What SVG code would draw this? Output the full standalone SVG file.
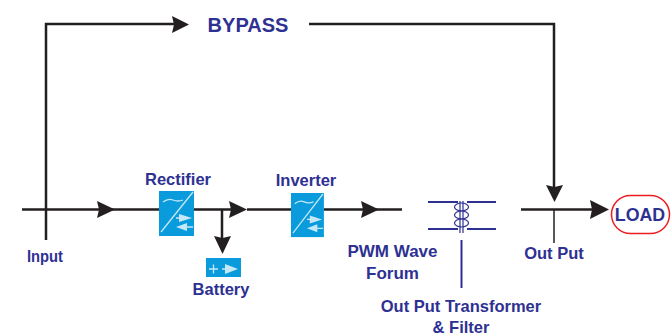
<svg xmlns="http://www.w3.org/2000/svg" width="671" height="335" viewBox="0 0 671 335">
<style>
text{font-family:"Liberation Sans",Arial,sans-serif;font-weight:bold;fill:#2e3192;font-size:16.500px;text-anchor:middle}
.w{fill:none;stroke:#231f20;stroke-width:2.500}
.t{fill:none;stroke:#2e3192;stroke-width:2}
.c{fill:none;stroke:#2e3192;stroke-width:1.200}
.a{fill:#231f20}
.b{fill:#0a9bdc}
.l{stroke:#c5e8f7;stroke-width:1.300;fill:none}
.f{fill:#c5e8f7}
</style>
<defs>
<g id="conv">
<rect class="b" width="35" height="45"/>
<path class="l" d="M2 41L34 1"/>
<path class="l" d="M4 11q5-4 10-2t10 0"/>
<path class="l" d="M17 27H22M26 36H34"/>
<path class="f" d="M20 23L33 27L20 31ZM17 36L28 32V40Z"/>
</g>
</defs>
<g id="connectors">
<path class="w" d="M46 240V24H175"/>
<path class="a" d="M172 16L189 24.500L172 33L174 24.500Z"/>
<path class="w" d="M309 24H554V188"/>
<path class="a" d="M546 185L554.500 187L563 185L554.500 202Z"/>
<path class="w" d="M22 209.500H159M194 209.500H232"/>
<path class="a" d="M97 201L115 209.500L97 218L99 209.500Z"/>
<path class="a" d="M229 201L247 209.500L229 218L231 209.500Z"/>
<path class="w" d="M222 210V240"/>
<path class="a" d="M214 236L222.500 238L231 236L222.500 254Z"/>
<path class="w" d="M247 209.500H291M324 209.500H402"/>
<path class="a" d="M361 201L379 209.500L361 218L363 209.500Z"/>
<path class="w" d="M521 209.500H595"/>
<path class="a" d="M590 200L609 209.500L590 219L592 209.500Z"/>
<path d="M554 209V243" fill="none" stroke="#231f20" stroke-width="1.500"/>
<path class="t" d="M461.500 240V288"/>
</g>
<g id="bypass"><text x="248" y="32" style="font-size:20px">BYPASS</text></g>
<g id="input"><text x="45" y="262" style="font-size:16px" textLength="36" lengthAdjust="spacingAndGlyphs">Input</text></g>
<g id="rectifier"><use href="#conv" x="159" y="191"/><text x="178" y="185">Rectifier</text></g>
<g id="battery">
<rect class="b" x="206" y="258" width="35" height="19"/>
<path class="l" d="M209 269H218M213.500 264.500V273.500M222 269H226"/>
<path class="f" d="M225 264L238 269L225 274Z"/>
<text x="221" y="295">Battery</text>
</g>
<g id="inverter"><use href="#conv" transform="translate(291 193) scale(.94 .98)"/><text x="306" y="186">Inverter</text></g>
<g id="pwm"><text x="392.500" y="257" style="font-size:17px">PWM Wave</text><text x="392.500" y="279" style="font-size:17px">Forum</text></g>
<g id="transformer">
<path class="t" d="M428 202H458M467 202H496M428 229H458M467 229H496"/>
<path class="c" d="M460 201V233M463 201V233"/>
<ellipse class="c" cx="461.500" cy="207" rx="7" ry="4"/>
<ellipse class="c" cx="461.500" cy="215" rx="7" ry="4"/>
<ellipse class="c" cx="461.500" cy="223" rx="7" ry="4"/>
<text x="461" y="312">Out Put Transformer</text><text x="461" y="333">&amp; Filter</text>
</g>
<g id="output"><text x="554" y="259">Out Put</text></g>
<g id="load"><rect x="611.500" y="195.500" width="58" height="38" rx="19" fill="#fff" stroke="#ed1c24" stroke-width="1.500"/><text x="640" y="221" style="font-size:17.800px">LOAD</text></g>
</svg>
